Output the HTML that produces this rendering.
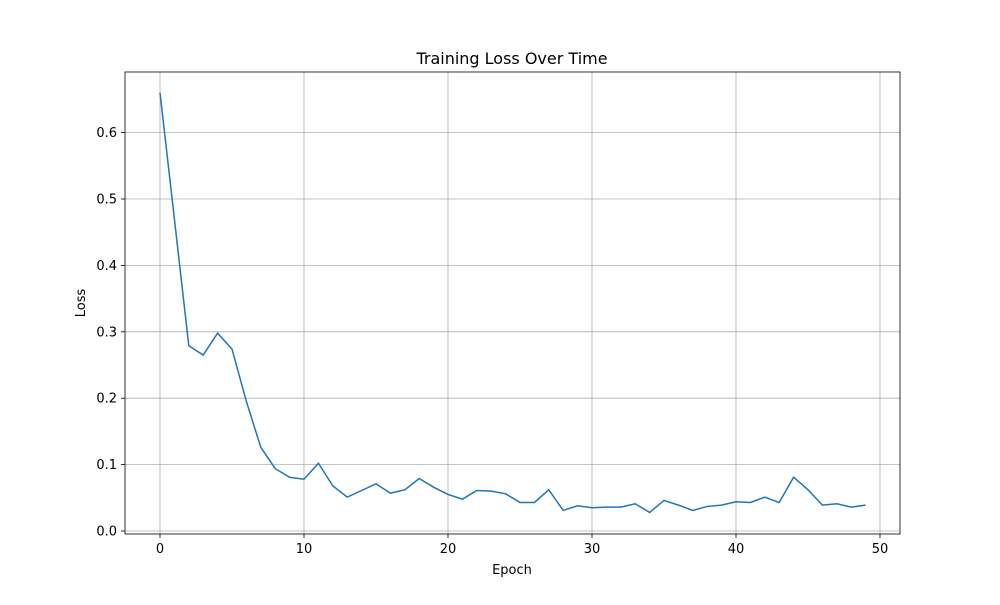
<!DOCTYPE html>
<html><head><meta charset="utf-8"><style>body{margin:0;background:#fff}svg{font-family:"DejaVu Sans","Liberation Sans",sans-serif}</style></head>
<body>
<svg id="chart" width="1000" height="600">
<rect x="0" y="0" width="1000" height="600" fill="#fff"/>
<g id="grid"></g>
<g id="ticks"></g>
<path id="line" fill="none" stroke="#1f77b4" stroke-width="1.5"/>
<rect x="125" y="72" width="775" height="462" fill="none" stroke="#000" stroke-width="0.8"/>
<text x="512" y="64" text-anchor="middle" font-size="16">Training Loss Over Time</text>
<text x="512" y="574" text-anchor="middle" font-size="13">Epoch</text>
<text x="0" y="0" transform="translate(85,303) rotate(-90)" text-anchor="middle" font-size="13">Loss</text>
</svg>
<script>
const epochs = Array.from({length:50},(_,i)=>i);
const loss = [0.660,0.470,0.279,0.265,0.298,0.274,0.195,0.126,0.094,0.081,0.078,0.102,0.068,0.051,0.061,0.071,0.057,0.062,0.079,0.066,0.055,0.048,0.061,0.060,0.056,0.043,0.043,0.062,0.031,0.038,0.035,0.036,0.036,0.041,0.028,0.046,0.039,0.031,0.037,0.039,0.044,0.043,0.051,0.043,0.081,0.062,0.039,0.041,0.036,0.039];
const xTicks = [0,10,20,30,40,50];
const yTicks = [0.0,0.1,0.2,0.3,0.4,0.5,0.6];
const xs = v => 160 + v*14.4;
const ys = v => 531 - v*664;
const NS="http://www.w3.org/2000/svg";
const grid=document.getElementById('grid'), ticks=document.getElementById('ticks');
function mk(tag,attrs,parent){const e=document.createElementNS(NS,tag);for(const k in attrs)e.setAttribute(k,attrs[k]);parent.appendChild(e);return e;}
xTicks.forEach(t=>{
  const g=mk('line',{x1:xs(t),x2:xs(t),y1:72,y2:534,stroke:'#b0b0b0','stroke-width':0.8},grid);
  
  
  const tk=mk('line',{x1:xs(t),x2:xs(t),y1:534,y2:538,stroke:'#000','stroke-width':0.8},ticks);
  
  
  const tx=mk('text',{x:xs(t),y:553,'text-anchor':'middle','font-size':13},ticks);
  tx.textContent=t;
  
  
});
yTicks.forEach(t=>{
  const g=mk('line',{x1:125,x2:900,y1:ys(t),y2:ys(t),stroke:'#b0b0b0','stroke-width':0.8},grid);
  
  
  const tk=mk('line',{x1:121,x2:125,y1:ys(t),y2:ys(t),stroke:'#000','stroke-width':0.8},ticks);
  
  
  const tx=mk('text',{x:117,y:ys(t)+4.5,'text-anchor':'end','font-size':13},ticks);
  tx.textContent=t.toFixed(1);
  
  
});
document.getElementById('line').setAttribute('d',loss.map((v,i)=>(i?'L':'M')+xs(epochs[i])+','+ys(v)).join(' '));
</script>
</body></html>
